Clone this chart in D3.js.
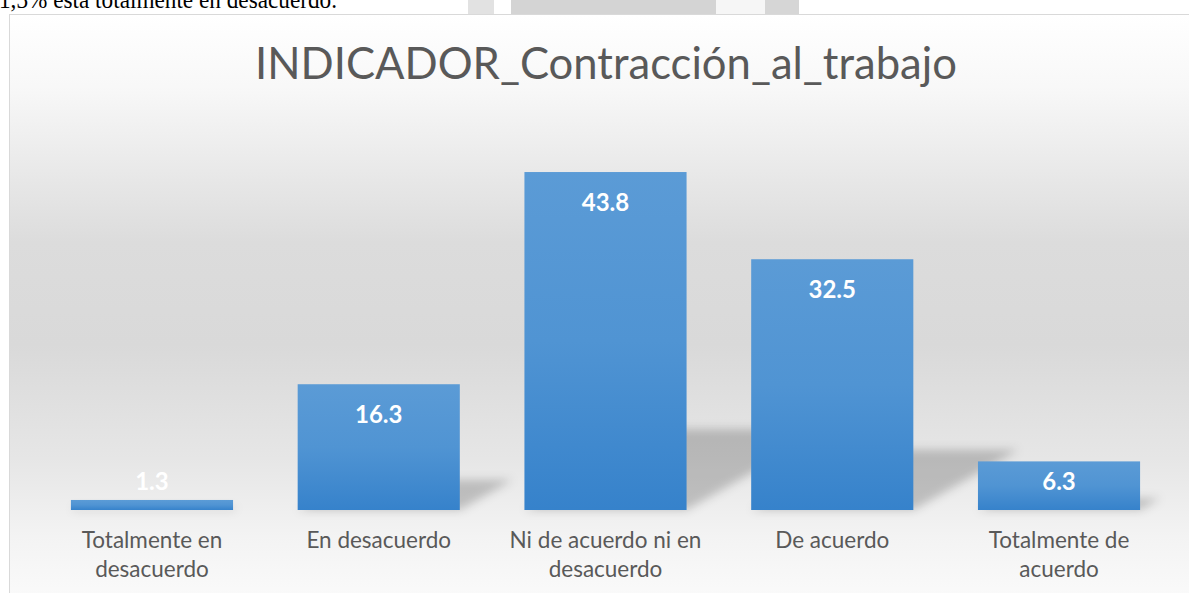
<!DOCTYPE html>
<html>
<head>
<meta charset="utf-8">
<script src="https://cdn.jsdelivr.net/npm/d3@7"></script>
<style>
html,body{margin:0;padding:0;background:#fff;overflow:hidden;}
svg{display:block;}
</style>
</head>
<body>
<svg id="chart" width="1189" height="593"></svg>
<script>
const title = "INDICADOR_Contracción_al_trabajo";
const categories = ["Totalmente en desacuerdo", "En desacuerdo", "Ni de acuerdo ni en desacuerdo", "De acuerdo", "Totalmente de acuerdo"];
const values = [1.3, 16.3, 43.8, 32.5, 6.3];
const pageText = "1,3% está totalmente en desacuerdo.";

const W = 1189, H = 593;
const svg = d3.select("#chart");
const defs = svg.append("defs");

// background gradient of chart area
const bg = defs.append("linearGradient").attr("id","bg").attr("x1",0).attr("y1",0).attr("x2",0).attr("y2",1);
[[0,"#ffffff"],[0.12,"#f8f8f8"],[0.38,"#dcdcdc"],[0.55,"#d9d9d9"],[0.74,"#e6e6e6"],[0.87,"#f3f3f3"],[1,"#fcfcfc"]]
  .forEach(([o,c])=>bg.append("stop").attr("offset",o).attr("stop-color",c));

const barG = defs.append("linearGradient").attr("id","barG").attr("x1",0).attr("y1",0).attr("x2",0).attr("y2",1);
[[0,"#5b9bd6"],[0.5,"#5094d3"],[1,"#3682cb"]].forEach(([o,c])=>barG.append("stop").attr("offset",o).attr("stop-color",c));

const blur = defs.append("filter").attr("id","blur").attr("x","-50%").attr("y","-50%").attr("width","200%").attr("height","200%");
blur.append("feGaussianBlur").attr("stdDeviation",5);

// page strip above chart (document text + watermark bits)
const strip = svg.append("g");
[[468,494,"#e2e2e2"],[511,716,"#d4d4d4"],[765,799,"#d6d6d6"]].forEach(([a,b,c])=>{
  strip.append("rect").attr("x",a).attr("y",0).attr("width",b-a).attr("height",14).attr("fill",c);
});
strip.append("rect").attr("x",716).attr("y",0).attr("width",49).attr("height",14).attr("fill","#f6f6f6");
strip.append("text").attr("x",-1).attr("y",8)
  .attr("font-family","'Liberation Serif','Times New Roman',serif").attr("font-size",26).attr("fill","#000")
  .attr("textLength",338).attr("lengthAdjust","spacingAndGlyphs")
  .text(pageText);

// chart area
const cx0 = 9, cy0 = 14, cw = 1194, ch = 600;
svg.append("rect").attr("x",cx0+0.5).attr("y",cy0+0.5).attr("width",cw).attr("height",ch)
  .attr("fill","url(#bg)").attr("stroke","#d9d9d9").attr("stroke-width",1);

// title
const tt = svg.append("text").attr("x",606).attr("y",79).attr("text-anchor","middle")
  .attr("font-family","Lato, 'Open Sans', sans-serif").attr("font-size",40).attr("fill","#595959")
  .text(title);
const tw = tt.node().getComputedTextLength();
tt.attr("font-size", 40*702/tw);

// scales
const x = d3.scaleBand().domain(categories).range([38.6, 1172.4]).paddingInner(0.285).paddingOuter(0.1425);
const y = d3.scaleLinear().domain([0, 50]).range([510, 124.2]);

// shadows
const sh = svg.append("g").attr("filter","url(#blur)");
categories.forEach((c,i)=>{
  const x0 = x(c), x1 = x(c)+x.bandwidth();
  const base = y(0);
  const h = (y(0)-y(values[i]))*0.24;
  const dx = 1.75*h;
  sh.append("path")
    .attr("d", `M${x0},${base} L${x1},${base} L${x1+dx},${base-h} L${x0+dx},${base-h} Z`)
    .attr("fill","#000").attr("fill-opacity",0.2);
});

// bars
svg.append("g").selectAll("rect").data(values).join("rect")
  .attr("x",(d,i)=>x(categories[i]))
  .attr("y",d=>y(d))
  .attr("width",x.bandwidth())
  .attr("height",d=>y(0)-y(d))
  .attr("fill","url(#barG)");

// data labels
svg.append("g").selectAll("text").data(values).join("text")
  .attr("x",(d,i)=>x(categories[i])+x.bandwidth()/2)
  .attr("y",d=>Math.min(y(d)+39, y(0)-20))
  .attr("text-anchor","middle")
  .attr("font-family","Lato, 'Open Sans', sans-serif").attr("font-weight","bold")
  .attr("font-size",24).attr("fill","#ffffff")
  .text(d=>d3.format(".1f")(d));

// category axis labels with wrapping
const axisG = svg.append("g").attr("transform",`translate(0,${y(0)})`)
  .call(d3.axisBottom(x).tickSize(0).tickPadding(0));
axisG.select(".domain").remove();
axisG.selectAll(".tick text")
  .attr("font-family","Lato, 'Open Sans', sans-serif").attr("font-size",22.5).attr("fill","#595959")
  .attr("y",38).attr("dy",0)
  .each(function(d){
    const t = d3.select(this);
    const words = d.split(" ");
    t.text(null);
    let line = [], lineNo = 0;
    let ts = t.append("tspan").attr("x",0).attr("y",38);
    for (const w of words){
      line.push(w);
      ts.text(line.join(" "));
      if (ts.node().getComputedTextLength() > 208 && line.length>1){
        line.pop(); ts.text(line.join(" "));
        line=[w]; lineNo++;
        ts = t.append("tspan").attr("x",0).attr("y",38+lineNo*29).text(w);
      }
    }
  });
</script>
</body>
</html>
